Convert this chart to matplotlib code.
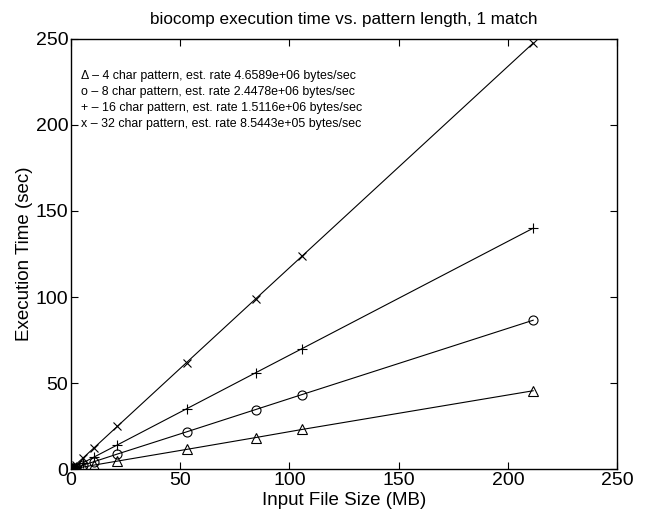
import matplotlib
matplotlib.use("Agg")
import matplotlib.pyplot as plt

plt.rcParams['font.family'] = ['Liberation Sans', 'DejaVu Sans']

# Input file sizes (MB)
sizes = [0.1, 0.21, 0.53, 1.06, 2.1, 5.3, 10.6, 21.2, 52.9, 84.6, 105.8, 211.6]

# Execution times (sec) for each pattern length
t_4 = [0.02, 0.05, 0.11, 0.23, 0.45, 1.1, 2.3, 4.6, 11.4, 18.3, 23.0, 45.5]
t_8 = [0.04, 0.09, 0.22, 0.43, 0.87, 2.2, 4.3, 8.7, 21.6, 34.6, 43.3, 86.5]
t_16 = [0.07, 0.14, 0.35, 0.70, 1.4, 3.5, 7.0, 14.0, 35.0, 56.0, 70.0, 140.0]
t_32 = [0.12, 0.25, 0.62, 1.24, 2.5, 6.2, 12.4, 24.8, 61.9, 99.0, 123.8, 247.6]

legend_lines = [
    "\u0394 \u2013 4 char pattern, est. rate 4.6589e+06 bytes/sec",
    "o \u2013 8 char pattern, est. rate 2.4478e+06 bytes/sec",
    "+ \u2013 16 char pattern, est. rate 1.5116e+06 bytes/sec",
    "x \u2013 32 char pattern, est. rate 8.5443e+05 bytes/sec",
]

fig = plt.figure(figsize=(6.48, 5.17), dpi=100)
ax = fig.add_axes([0.1096, 0.0928, 0.8426, 0.8318])

ax.plot(sizes, t_4, color='black', lw=0.8, marker='^', ms=7, mfc='none', mew=0.8)
ax.plot(sizes, t_8, color='black', lw=0.8, marker='o', ms=6.5, mfc='none', mew=0.8)
ax.plot(sizes, t_16, color='black', lw=0.8, marker='+', ms=7, mew=0.8)
ax.plot(sizes, t_32, color='black', lw=0.8, marker='x', ms=6, mew=0.8)

for i, line in enumerate(legend_lines):
    ax.text(0.018, 0.915 - i * 0.0378, line, transform=ax.transAxes,
            fontsize=8.9, va='center', ha='left')

ax.set_xlim(0, 250)
ax.set_ylim(0, 250)
ax.set_xticks([0, 50, 100, 150, 200, 250])
ax.set_yticks([0, 50, 100, 150, 200, 250])
ax.tick_params(direction='in', length=5, width=0.8, labelsize=14, top=True, right=True,
               labeltop=False, labelright=False, pad=2)
for s in ax.spines.values():
    s.set_linewidth(1.0)

ax.set_xlabel("Input File Size (MB)", fontsize=13.5, labelpad=2)
ax.set_ylabel("Execution Time (sec)", fontsize=13.5, labelpad=2)
ax.set_title("biocomp execution time vs. pattern length, 1 match", fontsize=12.3, pad=11)

fig.savefig("out.png", dpi=100)
